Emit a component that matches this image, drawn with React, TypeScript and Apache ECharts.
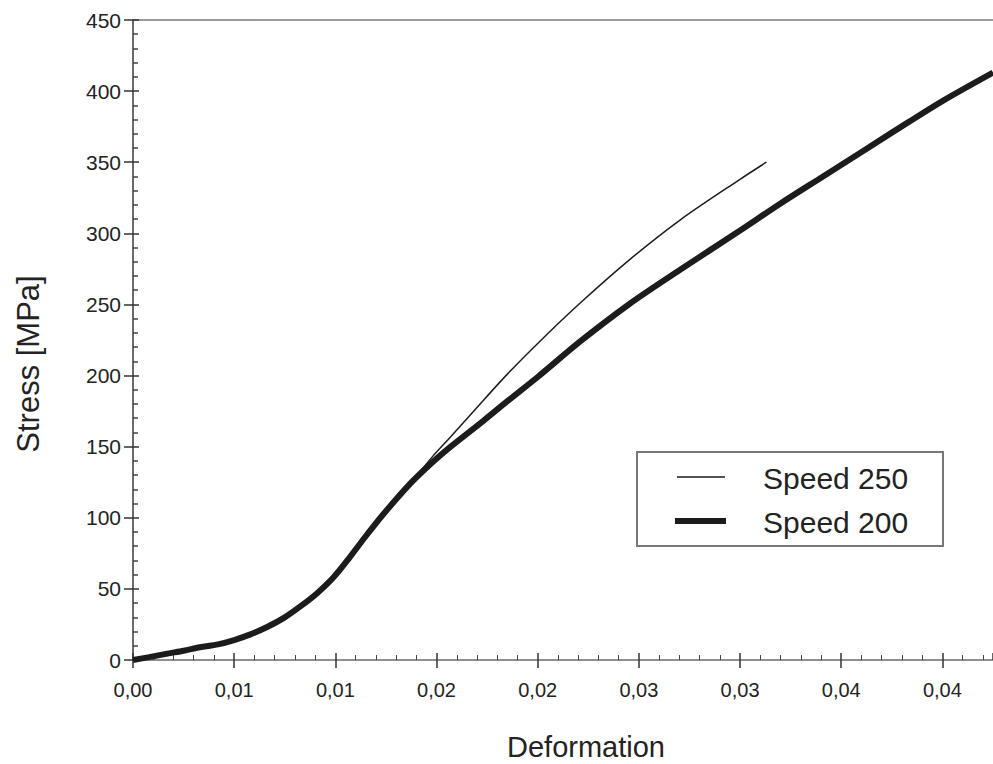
import React, { useEffect, useRef } from "react";
import * as echarts from "echarts";

// ---- data ----
const deformation200 = [0, 0.0008, 0.0017, 0.0025, 0.0033, 0.0042, 0.005, 0.0058, 0.0066, 0.0075, 0.0083, 0.0091, 0.0099, 0.0107, 0.0115, 0.0124, 0.0137, 0.0148, 0.0157, 0.0173, 0.0185, 0.02, 0.0221, 0.0245, 0.027, 0.03, 0.032, 0.0341, 0.0362, 0.0383, 0.04, 0.0425];
const stress200 = [0, 2, 4.5, 6.5, 9, 11, 14, 18, 23, 30, 38, 47, 58, 72, 87, 103, 124, 139, 150, 168, 182, 199, 224, 250, 274, 302, 321, 340, 359, 378, 393, 413];

const deformation250 = [0, 0.0008, 0.0017, 0.0025, 0.0033, 0.0042, 0.005, 0.0058, 0.0066, 0.0075, 0.0083, 0.0091, 0.0099, 0.0107, 0.0115, 0.0124, 0.0137, 0.0148, 0.0157, 0.0169, 0.0185, 0.0201, 0.0221, 0.0245, 0.027, 0.03, 0.0313];
const stress250 = [0, 2, 4.5, 6.5, 9, 11, 14, 18, 23, 30, 38, 47, 58, 72, 87, 103, 124, 143, 157, 176, 201, 224, 251, 281, 309, 338, 350];

const seriesNames = ["Speed 250", "Speed 200"];
const xTickLabels = ["0,00", "0,01", "0,01", "0,02", "0,02", "0,03", "0,03", "0,04", "0,04"];
const yTickLabels = ["0", "50", "100", "150", "200", "250", "300", "350", "400", "450"];
const xAxisTitle = "Deformation";
const yAxisTitle = "Stress [MPa]";

const FONT = "'Liberation Sans', Arial, Helvetica, sans-serif";
const TEXT = "#232323";
const AXIS = "#6a6a6a";
const LINE = "#1c1c1c";

function pairs(xs: number[], ys: number[]) {
  return xs.map((x, i) => [x, ys[i]]);
}

export default function App() {
  const ref = useRef<HTMLDivElement>(null);
  useEffect(() => {
    if (!ref.current) return;
    const chart = echarts.init(ref.current, undefined, { renderer: "svg" });
    const xStep = 0.005;
    const xFmt = (v: number) => {
      const i = Math.round(v / xStep);
      if (Math.abs(v - i * xStep) > 1e-9) return "";
      return xTickLabels[i] ?? "";
    };
    const yFmt = (v: number) => {
      const i = Math.round(v / 50);
      return yTickLabels[i] ?? "";
    };
    const grid = { left: 133, top: 20, right: 0, bottom: 104 };
    const legendTextStyle = { fontSize: 30, fill: TEXT, fontFamily: FONT, align: "left", verticalAlign: "middle" };
    chart.setOption({
      animation: false,
      backgroundColor: "#ffffff",
      grid,
      xAxis: [
        {
          type: "value",
          min: 0,
          max: 0.0425,
          interval: xStep,
          position: "bottom",
          axisLine: { show: true, lineStyle: { color: AXIS, width: 1.5 } },
          axisTick: { show: true, inside: false, length: 8, lineStyle: { color: "#333", width: 1.5 } },
          axisLabel: { formatter: xFmt, margin: 20, fontSize: 20, color: TEXT, fontFamily: FONT, showMaxLabel: false },
          splitLine: { show: false },
        },
        {
          type: "value",
          min: 0,
          max: 0.0425,
          interval: xStep,
          position: "bottom",
          axisLine: { show: false },
          axisTick: { show: true, inside: true, length: 7, lineStyle: { color: "#333", width: 1.5 } },
          minorTick: { show: true, splitNumber: 5, length: 5, lineStyle: { color: "#444", width: 1 } },
          axisLabel: { show: false },
          splitLine: { show: false },
        },
        {
          type: "value",
          min: 0,
          max: 0.0425,
          position: "top",
          axisLine: { show: true, lineStyle: { color: "#7a7a7a", width: 1.5 } },
          axisTick: { show: false },
          axisLabel: { show: false },
          splitLine: { show: false },
        },
      ],
      yAxis: [
        {
          type: "value",
          min: 0,
          max: 450,
          interval: 50,
          position: "left",
          axisLine: { show: true, lineStyle: { color: AXIS, width: 2 } },
          axisTick: { show: true, inside: false, length: 9, lineStyle: { color: "#333", width: 1.5 } },
          axisLabel: { formatter: yFmt, margin: 12, fontSize: 21, color: TEXT, fontFamily: FONT },
          splitLine: { show: false },
        },
        {
          type: "value",
          min: 0,
          max: 450,
          interval: 50,
          position: "left",
          axisLine: { show: false },
          axisTick: { show: true, inside: true, length: 6, lineStyle: { color: "#333", width: 1.5 } },
          minorTick: { show: true, splitNumber: 5, length: 5, lineStyle: { color: "#444", width: 1.5 } },
          axisLabel: { show: false },
          splitLine: { show: false },
        },
      ],
      graphic: [
        {
          type: "rect",
          z: 3,
          shape: { x: 637, y: 452, width: 306, height: 94 },
          style: { fill: "#ffffff", stroke: "#777777", lineWidth: 2 },
        },
        {
          type: "line",
          z: 4,
          shape: { x1: 677, y1: 477, x2: 725, y2: 477 },
          style: { stroke: LINE, lineWidth: 1.5 },
        },
        {
          type: "line",
          z: 4,
          shape: { x1: 675, y1: 521, x2: 726, y2: 521 },
          style: { stroke: LINE, lineWidth: 6 },
        },
        {
          type: "text",
          z: 4,
          x: 763,
          y: 478,
          style: { ...legendTextStyle, text: seriesNames[0] },
        },
        {
          type: "text",
          z: 4,
          x: 763,
          y: 522,
          style: { ...legendTextStyle, text: seriesNames[1] },
        },
        {
          type: "text",
          x: 586,
          y: 747,
          style: { text: xAxisTitle, fontSize: 29, fill: TEXT, fontFamily: FONT, align: "center", verticalAlign: "middle" },
        },
        {
          type: "text",
          x: 28,
          y: 364,
          rotation: Math.PI / 2,
          style: { text: yAxisTitle, fontSize: 31, fill: TEXT, fontFamily: FONT, align: "center", verticalAlign: "middle" },
        },
      ],
      series: [
        {
          name: seriesNames[1],
          type: "line",
          xAxisIndex: 0,
          yAxisIndex: 0,
          symbol: "none",
          smooth: 0.3,
          lineStyle: { color: LINE, width: 6 },
          itemStyle: { color: LINE },
          data: pairs(deformation200, stress200),
        },
        {
          name: seriesNames[0],
          type: "line",
          xAxisIndex: 0,
          yAxisIndex: 0,
          symbol: "none",
          smooth: 0.3,
          lineStyle: { color: LINE, width: 1.5 },
          itemStyle: { color: LINE },
          data: pairs(deformation250, stress250),
        },
      ],
    });
    return () => chart.dispose();
  }, []);
  return (
    <div
      ref={ref}
      style={{ position: "fixed", left: 0, top: 0, width: 993, height: 764, background: "#fff" }}
    />
  );
}
